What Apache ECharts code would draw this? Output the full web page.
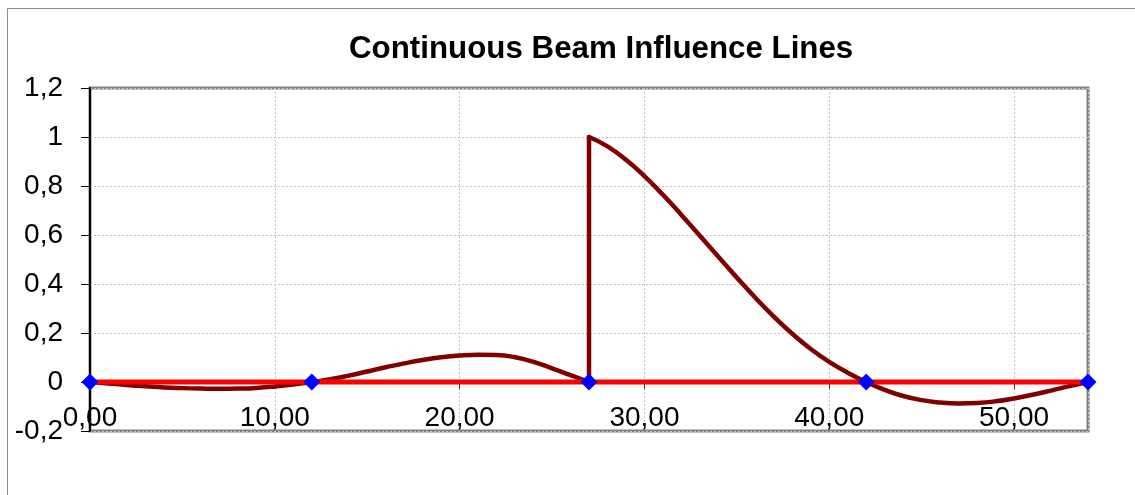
<!DOCTYPE html>
<html>
<head>
<meta charset="utf-8">
<script src="https://cdn.jsdelivr.net/npm/echarts@6/dist/echarts.min.js"></script>
<style>
html,body{margin:0;padding:0;background:#fff;}
#chart{width:1135px;height:495px;}
</style>
</head>
<body>
<div id="chart"></div>
<script>
// Influence line, spans 1-2 (x = 0..27)
const leftX = [0,1,2,3,4,5,6,7,8,9,10,11,12,13,14,15,16,17,18,19,20,21,22,23,24,25,26,27];
const leftY = [0,-0.006,-0.012,-0.017,-0.022,-0.025,-0.027,-0.028,-0.027,-0.024,-0.018,-0.010,0,
               0.011,0.026,0.043,0.060,0.076,0.090,0.101,0.108,0.111,0.110,0.101,0.082,0.056,0.028,0];
// Jump at the middle support
const jumpX = [27,27];
const jumpY = [0,1];
// Influence line, spans 3-4 (x = 27..54)
const rightX = [27,28,29,30,31,32,33,34,35,36,37,38,39,40,41,42,43,44,45,46,47,48,49,50,51,52,53,54];
const rightY = [1.0,0.962,0.907,0.840,0.764,0.682,0.597,0.511,0.426,0.344,0.267,0.197,0.135,0.082,0.038,0,
                -0.032,-0.057,-0.074,-0.084,-0.088,-0.086,-0.079,-0.067,-0.052,-0.035,-0.017,0];
// Supports
const supportX = [0,12,27,42,54];
const supportY = [0,0,0,0,0];
// Tick labels
const xTickLabels = ['0,00','10,00','20,00','30,00','40,00','50,00'];
const yTickLabels = ['-0,2','0','0,2','0,4','0,6','0,8','1','1,2'];

const FONT = "'Liberation Sans', Arial, sans-serif";
const pairs = (xs, ys) => xs.map((x, i) => [x, ys[i]]);
const curveStyle = {color:'#800000', width:4.5, cap:'round', join:'round'};

const chart = echarts.init(document.getElementById('chart'), null, {renderer:'canvas'});
chart.setOption({
  animation:false,
  backgroundColor:'#ffffff',
  graphic:[{
    type:'rect', shape:{x:7.5, y:8.5, width:1300, height:700},
    style:{fill:'none', stroke:'#8c8c8c', lineWidth:1}, silent:true, z:-10
  }],
  title:{
    text:'Continuous Beam Influence Lines',
    left:344, top:29,
    textStyle:{fontFamily:FONT, fontSize:31.3, fontWeight:'bold', color:'#000'}
  },
  grid:{left:90, right:47, top:88, bottom:64, containLabel:false, outerBoundsMode:'none',
        show:true, borderColor:'#808080', borderWidth:3, backgroundColor:'transparent'},
  xAxis:{
    type:'value', min:0, max:54, interval:10,
    offset:-49,
    axisLine:{onZero:false, lineStyle:{color:'#000', width:1}},
    axisTick:{show:true, inside:false, length:7, lineStyle:{color:'#333', width:1}},
    axisLabel:{fontFamily:FONT, fontSize:28, color:'#000', margin:22,
      showMaxLabel:false,
      formatter:function(v){ const i = Math.round(v/10); return (Math.abs(v - i*10) < 1e-6 && xTickLabels[i]) || ''; }},
    splitLine:{show:true, lineStyle:{color:'#c4c4c4', width:1, type:[2,2]}}
  },
  yAxis:{
    type:'value', min:-0.2, max:1.2, interval:0.2,
    axisLine:{show:true, onZero:false, lineStyle:{color:'#000', width:2}},
    axisTick:{show:true, inside:false, length:9, lineStyle:{color:'#000', width:1}},
    axisLabel:{fontFamily:FONT, fontSize:28, color:'#000', margin:27,
      formatter:function(v){ const i = Math.round((v + 0.2)/0.2); return yTickLabels[i] !== undefined ? yTickLabels[i] : ''; }},
    splitLine:{show:true, lineStyle:{color:'#c4c4c4', width:1, type:[2,2]}}
  },
  series:[
    {type:'line', data:pairs(leftX, leftY), smooth:0.5, showSymbol:false, symbol:'none', lineStyle:curveStyle, z:2},
    {type:'line', data:pairs(jumpX, jumpY), smooth:false, showSymbol:false, symbol:'none', lineStyle:curveStyle, z:2},
    {type:'line', data:pairs(rightX, rightY), smooth:0.5, showSymbol:false, symbol:'none', lineStyle:curveStyle, z:2},
    {type:'line', data:pairs(supportX, supportY), showSymbol:true, symbol:'diamond', symbolSize:17,
     itemStyle:{color:'#0000ff'}, lineStyle:{color:'#ff0000', width:5}, z:3}
  ]
});
</script>
</body>
</html>
